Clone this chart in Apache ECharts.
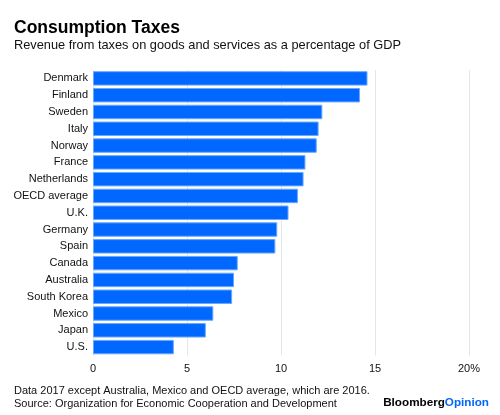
<!DOCTYPE html>
<html>
<head>
<meta charset="utf-8">
<script src="https://cdn.jsdelivr.net/npm/echarts@6/dist/echarts.min.js"></script>
<style>html,body{margin:0;padding:0;background:#fff}#c{width:500px;height:415px}</style>
</head>
<body>
<div id="c"></div>
<script>
const categories = ["Denmark","Finland","Sweden","Italy","Norway","France","Netherlands","OECD average","U.K.","Germany","Spain","Canada","Australia","South Korea","Mexico","Japan","U.S."];
const values = [14.6,14.2,12.2,12.0,11.9,11.3,11.2,10.9,10.4,9.8,9.7,7.7,7.5,7.4,6.4,6.0,4.3];
const tickValues = [0,5,10,15,20];

const FONT = '"Liberation Sans", Arial, Helvetica, sans-serif';
const chart = echarts.init(document.getElementById('c'), null, {renderer:'canvas'});
chart.setOption({
  animation: false,
  backgroundColor: '#fff',
  title: [
    {text: 'Consumption Taxes', left: 9, top: 14, textStyle:{fontFamily:FONT, fontSize:17.5, fontWeight:'bold', color:'#000'}},
    {text: 'Revenue from taxes on goods and services as a percentage of GDP', left: 9, top: 34, textStyle:{fontFamily:FONT, fontSize:12.8, fontWeight:'normal', color:'#111'}},
    {text: 'Data 2017 except Australia, Mexico and OECD average, which are 2016.\nSource: Organization for Economic Cooperation and Development', left: 9, top: 379, textStyle:{fontFamily:FONT, fontSize:11, fontWeight:'normal', color:'#111', lineHeight:13}},
    {text: '{b|Bloomberg}{o|Opinion}', right: 6, top: 392, textStyle:{rich:{
      b:{fontFamily:FONT, fontSize:11.7, fontWeight:'bold', color:'#000'},
      o:{fontFamily:FONT, fontSize:11.7, fontWeight:'bold', color:'#0068ff'}}}}
  ],
  grid: {left: 93, right: 31, top: 70, bottom: 59.5, containLabel: false},
  xAxis: {
    type: 'value', min: 0, max: 20, interval: 5,
    axisLine: {show:false}, axisTick: {show:false},
    splitLine: {show:true, lineStyle:{color:'#e6e6e6', width:1}},
    axisLabel: {fontFamily:FONT, fontSize:11, color:'#111', margin:8,
      formatter: v => tickValues.includes(v) ? (v === 20 ? '20%' : String(v)) : ''}
  },
  yAxis: {
    type: 'category', data: categories, inverse: true,
    axisLine: {show:false}, axisTick: {show:false},
    axisLabel: {fontFamily:FONT, fontSize:11, color:'#111', margin:5}
  },
  series: [{
    type: 'bar', data: values, barCategoryGap: '14%',
    itemStyle: {color:'#0068ff', borderColor:'#6aa6ff', borderWidth:1}
  }]
});
</script>
</body>
</html>
